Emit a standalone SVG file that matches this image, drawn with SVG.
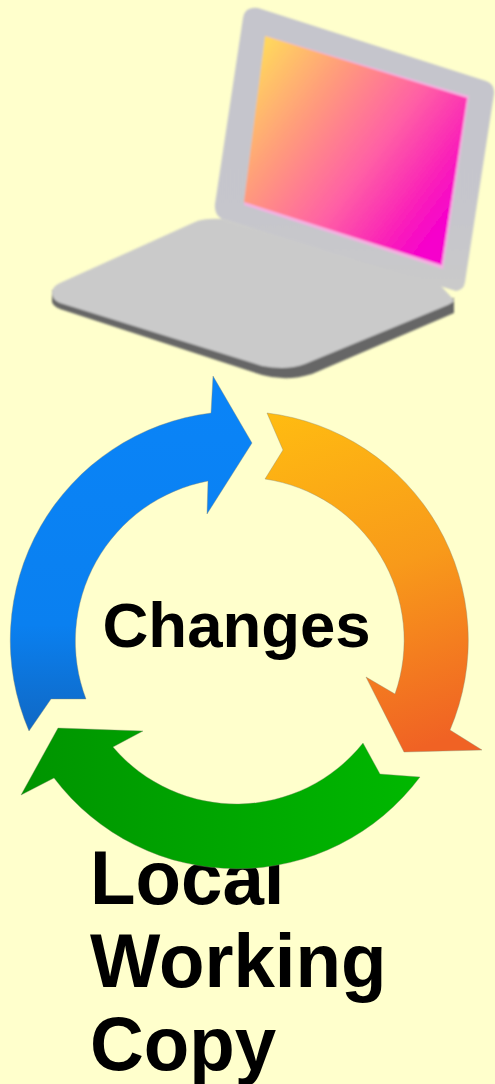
<svg xmlns="http://www.w3.org/2000/svg" width="495" height="1084" viewBox="0 0 495 1084">
<style>
.lbl{font-family:"Liberation Sans",Arial,sans-serif;font-weight:700;fill:#000}
.arrow{stroke:#8a8a70;stroke-opacity:.55;stroke-width:.7}
</style>
<defs>
<linearGradient id="gBlue" x1="0" y1="0" x2="0" y2="1"><stop offset="0" stop-color="#0a84f8"/><stop offset=".7" stop-color="#0a80f0"/><stop offset="1" stop-color="#1068c4"/></linearGradient>
<linearGradient id="gOrange" gradientUnits="userSpaceOnUse" x1="290" y1="410" x2="410" y2="752"><stop offset="0" stop-color="#ffbb11"/><stop offset=".5" stop-color="#f89a1a"/><stop offset="1" stop-color="#f06224"/></linearGradient>
<linearGradient id="gGreen" x1="0" y1="0" x2="1" y2="0"><stop offset="0" stop-color="#009400"/><stop offset="1" stop-color="#00b800"/></linearGradient>
<linearGradient id="gScreen" gradientUnits="userSpaceOnUse" x1="262" y1="50" x2="462" y2="200"><stop offset="0" stop-color="#ffd65e"/><stop offset=".3" stop-color="#ff9a7c"/><stop offset=".6" stop-color="#ff62a4"/><stop offset=".85" stop-color="#fa22b8"/><stop offset="1" stop-color="#f600cc"/></linearGradient>
<linearGradient id="gLid" x1="0" y1="0" x2="0" y2="1"><stop offset="0" stop-color="#c5c5cc"/><stop offset=".75" stop-color="#c6c6cc"/><stop offset="1" stop-color="#cacaca"/></linearGradient>
<filter id="soft" x="-5%" y="-5%" width="110%" height="110%"><feGaussianBlur stdDeviation="1"/></filter>
</defs>
<rect id="background" width="495" height="1084" fill="#ffffcc"/>
<g id="laptop" filter="url(#soft)">
<path fill="#666" d="M52 290 V302 Q53 306 60 309 L262 375 Q287 382 312 374 L454 313 V298 Z"/>
<path fill="#cacaca" d="M53 289 Q54 286 60 283 L195 222 Q205 218 222 219 L440 285 L454 300 Q454 302 448 305 L305 364 Q287 371 262 366 L60 303 Q52 300 52 292 Z"/>
<path fill="url(#gLid)" d="M258 8 L486 81 Q495 84 494 94 L465 282 Q464 290 456 291 L420 280 L222 219 Q214 215 215 204 L243 18 Q245 6 258 8 Z"/>
<path fill="#f4b0e2" d="M266 36 L469 96 L443 269 L244 205 Z"/>
<path fill="url(#gScreen)" d="M265 36 L467 98 L441.500 265 L244 202 Z"/>
</g>
<g id="label-local-working-copy">
<text class="lbl" font-size="76" transform="translate(90 904) scale(.98 1)">Local</text>
<text class="lbl" font-size="76" transform="translate(90 987) scale(.98 1)">Working</text>
<text class="lbl" font-size="76" transform="translate(90 1070) scale(.98 1)">Copy</text>
</g>
<g id="connectors">
<path id="arrow-blue" class="arrow" fill="url(#gBlue)" d="M29 731 A229 229 0 0 1 211 413 L213 376 L252 443 L207 514 L208 481 A163 163 0 0 0 86 699 L51 699 Z"/>
<path id="arrow-orange" class="arrow" fill="url(#gOrange)" d="M267 413 A229 229 0 0 1 450 730 L482 750 L404 752 L366 677 L395 694 A163 163 0 0 0 265 479 L283 450 Z"/>
<path id="arrow-green" class="arrow" fill="url(#gGreen)" d="M420 777 A229 229 0 0 1 54 778 L21 795 L58 728 L143 731 L113 747 A162 162 0 0 0 363 743 L380 774 Z"/>
</g>
<g id="label-changes">
<text class="lbl" font-size="63.500" x="102.500" y="647">Changes</text>
</g>
</svg>
